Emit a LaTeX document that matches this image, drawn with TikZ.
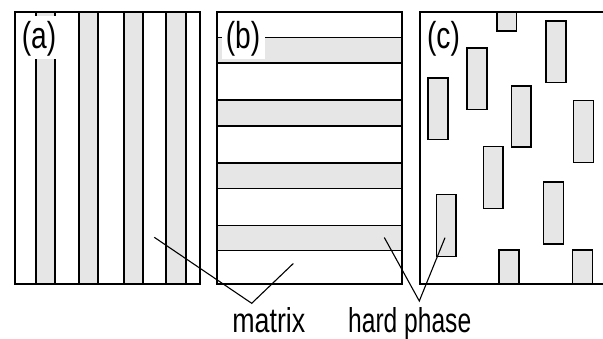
\documentclass[tikz,border=0pt]{standalone}
\usepackage{fontspec}
\setmainfont{Liberation Sans}
\usepackage{graphicx}
\definecolor{phase}{HTML}{E6E6E6}
\begin{document}
\begin{tikzpicture}[x=1pt,y=-1pt,
  frame/.style={line width=1.8pt},
  sep/.style={line width=1.4pt},
  grain/.style={draw, line width=1.6pt, fill=phase},
  leader/.style={line width=1.1pt},
  panellabel/.style={anchor=base, fill=white, inner sep=0pt, text height=32pt,
    text depth=11pt, minimum width=43pt, font=\fontsize{37.5}{40}\selectfont},
  caption/.style={anchor=base, inner sep=0pt, font=\fontsize{34.5}{36}\selectfont}]
\useasboundingbox[fill=white] (0,0) rectangle (603,338);

% (a) vertical lamellae
\foreach \l/\r in {36/55,79/98,124/143,166/186} {
  \fill[phase] (\l,12) rectangle (\r,283.6);
  \draw[sep] (\l,12) -- (\l,283.6);
  \draw[sep] (\r,12) -- (\r,283.6);
}
\draw[frame] (15,12) rectangle (200,283.6);

% (b) horizontal lamellae
\foreach \t/\b in {37.7/63,100/126,163/188.7,225.7/250.7} {
  \fill[phase] (217.3,\t) rectangle (402,\b);
  \draw[sep] (217.3,\t) -- (402,\t);
  \draw[sep] (217.3,\b) -- (402,\b);
}
\draw[frame] (217.3,12) rectangle (402,283.6);

% (c) dispersed hard-phase grains
\begin{scope}
  \clip (0,0) rectangle (603,338);
  \draw[frame] (420,12) rectangle (640,283.6);
\end{scope}
\foreach \xa/\ya/\xb/\yb in {
  496.7/12/516.3/31,
  546/21/565.7/82.3,
  466.7/47.7/486.7/109.3,
  428/77.7/447.7/139.3,
  511.3/85.7/530.7/147,
  573.3/100.3/593.3/162.3,
  483.3/146.3/502.7/208.3,
  436.3/194.3/455.7/256.3,
  543.3/182/563.3/244,
  499/249.7/518.7/283.6,
  572.3/249.7/592.3/283.6} {
  \draw[grain] (\xa,\ya) rectangle (\xb,\yb);
}

% panel labels
\node[panellabel] (la) at (39,48) {\scalebox{0.75}[1]{(a)}};
\node[panellabel] (lb) at (243,48) {\scalebox{0.75}[1]{(b)}};
\node[panellabel] (lc) at (443.5,48) {\scalebox{0.75}[1]{(c)}};

% captions
\node[caption] (matrix) at (268.8,332.3) {\scalebox{0.777}[1]{matrix}};
\node[caption] (hard) at (409.7,332.3) {\scalebox{0.713}[1]{hard phase}};

% leader lines
\coordinate (m1) at (154.3,237.3);
\coordinate (m2) at (293.3,263.5);
\coordinate (mv) at (251.7,303.3);
\coordinate (h1) at (384.3,237.5);
\coordinate (h2) at (445,237.7);
\coordinate (hv) at (419.3,301);
\draw[leader] (m1) -- (mv) -- (m2);
\draw[leader] (h1) -- (hv) -- (h2);
\end{tikzpicture}
\end{document}
